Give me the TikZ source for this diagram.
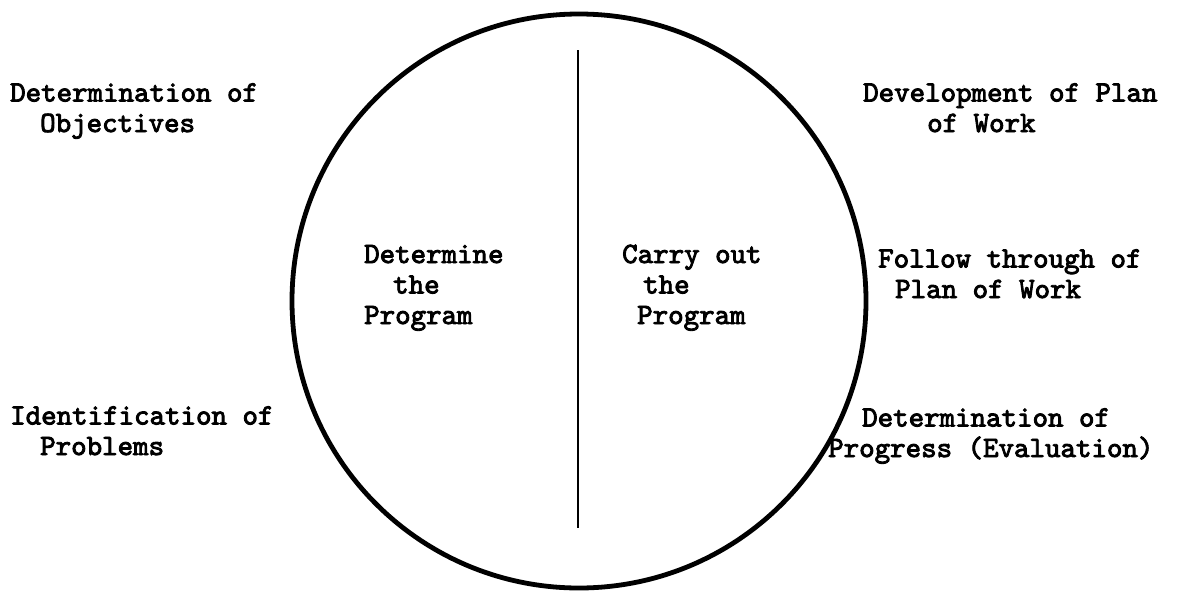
\documentclass[tikz,border=0pt]{standalone}
\usepackage{fontspec}
\newfontfamily\tw[FakeBold=3]{lmmono10-regular.otf}
\begin{document}
\begin{tikzpicture}[x=1pt,y=-1pt,
  lbl/.style={anchor=base west,inner sep=0pt,align=left,font=\tw\fontsize{29.5}{30.5}\selectfont},
  ring/.style={draw=black,line width=4.8pt},
  divider/.style={draw=black,line width=2pt}]
\useasboundingbox (0,0) rectangle (1178,592);
\node[circle,ring,minimum size=574pt,inner sep=0pt] (c) at (579,301) {};
\coordinate (top) at (578,50);
\coordinate (bot) at (578,528);
\draw[divider] (top) -- (bot);
\node[lbl] (obj) at (10,132) {Determination of\\\hspace*{30pt}Objectives};
\node[lbl] (dev) at (863,132) {Development of Plan\\\hspace*{64pt}of Work};
\node[lbl] (fol) at (878,298) {Follow through of\\\hspace*{17pt}Plan of Work};
\node[lbl] (prog) at (828,457) {\hspace*{34pt}Determination of\\Progress (Evaluation)};
\node[lbl] (prob) at (10,455) {Identification of\\\hspace*{30pt}Problems};
\node[lbl] (det) at (364,324) {Determine\\\hspace*{29pt}the\\Program};
\node[lbl] (car) at (622,324) {Carry out\\\hspace*{21pt}the\\\hspace*{15pt}Program};
\end{tikzpicture}
\end{document}
